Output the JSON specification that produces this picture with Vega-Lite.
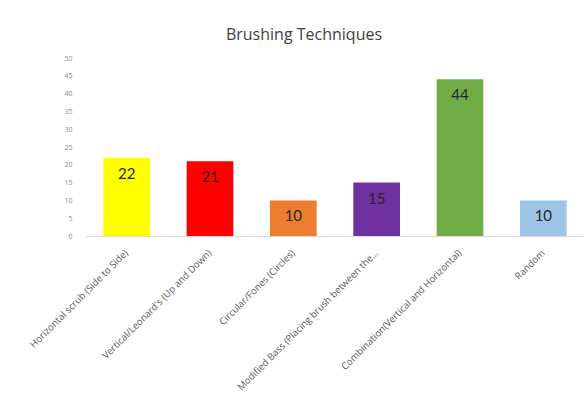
{
  "$schema": "https://vega.github.io/schema/vega-lite/v6.json",
  "autosize": {"type": "none"},
  "padding": {"left": 85, "top": 58, "right": 0, "bottom": 171},
  "width": 500,
  "height": 178,
  "background": "white",
  "title": {"text": "Brushing Techniques", "fontSize": 16, "font": "Open Sans", "fontWeight": "normal", "color": "#404040", "dx": -31, "offset": 11},
  "data": {"values": [
    {"technique": "Horizontal scrub (Side to Side)", "count": 22, "color": "#FFFF00"},
    {"technique": "Vertical/Leonard's (Up and Down)", "count": 21, "color": "#FF0000"},
    {"technique": "Circular/Fones (Circles)", "count": 10, "color": "#ED7D31"},
    {"technique": "Modified Bass (Placing brush between the…", "count": 15, "color": "#7030A0"},
    {"technique": "Combination(Vertical and Horizontal)", "count": 44, "color": "#70AD47"},
    {"technique": "Random", "count": 10, "color": "#9DC3E6"}
  ]},
  "encoding": {
    "x": {"field": "technique", "type": "nominal", "sort": null,
      "scale": {"paddingInner": 0.44, "paddingOuter": 0.22},
      "axis": {"title": null, "labelAngle": -45, "labelAlign": "right", "labelBaseline": "middle", "labelFontSize": 9.6, "labelFont": "Open Sans", "labelColor": "#595959", "labelPadding": 15, "ticks": false, "domainColor": "#D9D9D9", "labelLimit": 300}},
    "y": {"field": "count", "type": "quantitative",
      "scale": {"domain": [0, 50]},
      "axis": {"title": null, "values": [0,5,10,15,20,25,30,35,40,45,50], "grid": false, "domain": false, "ticks": false, "labelFontSize": 7, "labelFont": "Open Sans", "labelColor": "#8c8c8c", "labelPadding": 13}}
  },
  "layer": [
    {"mark": {"type": "bar"}, "encoding": {"color": {"field": "color", "type": "nominal", "scale": null}}},
    {"mark": {"type": "text", "baseline": "top", "dy": 9, "fontSize": 15, "font": "Lato", "color": "#262626"}, "encoding": {"text": {"field": "count", "type": "quantitative"}}}
  ],
  "config": {"view": {"stroke": null}}
}
